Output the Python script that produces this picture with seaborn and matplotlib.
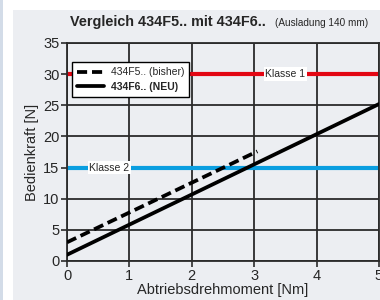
import numpy as np
import pandas as pd
import matplotlib
matplotlib.use("Agg")
import matplotlib.pyplot as plt
from matplotlib.patches import Rectangle
import seaborn as sns

# data
torque_old = [0.0, 3.05]
force_old = [3.0, 17.6]
torque_new = [0.0, 5.0]
force_new = [1.0, 25.2]
series_names = ["434F5.. (bisher)", "434F6.. (NEU)"]
class_levels = [30, 15]
class_labels = ["Klasse 1", "Klasse 2"]
class_label_x = [3.5, 0.68]
class_colors = ["#e30613", "#0a9ee0"]
x_ticks = [0, 1, 2, 3, 4, 5]
y_ticks = [0, 5, 10, 15, 20, 25, 30, 35]

df = pd.DataFrame({
    "Abtriebsdrehmoment": torque_old + torque_new,
    "Bedienkraft": force_old + force_new,
    "Serie": [series_names[0]] * len(torque_old) + [series_names[1]] * len(torque_new),
})

sns.set_style("white")
plt.rcParams["font.family"] = ["Liberation Sans", "DejaVu Sans"]

fig = plt.figure(figsize=(3.8, 3.0), dpi=100)
fig.patch.set_facecolor("white")
fig.patches.append(Rectangle((0, 0), 3 / 380, 1, transform=fig.transFigure,
                             facecolor="#d3dce8", edgecolor="none", zorder=-10))
fig.patches.append(Rectangle((13 / 380, 0), 1, 290 / 300, transform=fig.transFigure,
                             facecolor="#eceef2", edgecolor="none", zorder=-10))

ax = fig.add_axes([67 / 380, 39 / 300, 312 / 380, 218 / 300])
ax.set_facecolor("#eceef2")

grid_c = "#2b2b2b"
for xv in x_ticks:
    ax.axvline(xv, color=grid_c, lw=1.3, zorder=1)
for yv in y_ticks:
    ax.axhline(yv, color=grid_c, lw=1.3, zorder=1)

for lvl, lbl, lx, c in zip(class_levels, class_labels, class_label_x, class_colors):
    ax.axhline(lvl, color=c, lw=3, zorder=2)
    ax.text(lx, lvl, lbl, ha="center", va="center", fontsize=7.5, zorder=3,
            bbox=dict(facecolor="white", edgecolor="none", pad=1.2))

sns.lineplot(data=df, x="Abtriebsdrehmoment", y="Bedienkraft", hue="Serie", style="Serie",
             palette=["black", "black"], dashes={series_names[0]: (2.7, 1.3), series_names[1]: ""},
             lw=2.7, ax=ax, zorder=4)

ax.set_xlim(0, 5)
ax.set_ylim(0, 35)
ax.set_xticks(x_ticks)
ax.set_yticks(y_ticks)
ax.tick_params(axis="both", direction="out", length=4, width=1.2, color=grid_c,
               labelsize=10.5, pad=1.5, left=True, bottom=True)
for s in ax.spines.values():
    s.set_color(grid_c)
    s.set_linewidth(1.3)
ax.set_xlabel("Abtriebsdrehmoment [Nm]", fontsize=10.5, labelpad=0)
ax.set_ylabel("Bedienkraft [N]", fontsize=10.5, labelpad=3)

leg = ax.legend(loc="upper left", bbox_to_anchor=(0.016, 0.913), borderaxespad=0,
                fontsize=7.5, frameon=True, fancybox=False, edgecolor="black",
                framealpha=1, handlelength=2.6, borderpad=0.5, labelspacing=0.45,
                handletextpad=0.6)
leg.get_frame().set_linewidth(1.0)
leg.set_zorder(5)
leg.get_texts()[1].set_fontweight("bold")

fig.text(70 / 380, 1 - 22 / 300, "Vergleich 434F5.. mit 434F6..", fontsize=10.4,
         fontweight="bold", ha="left", va="center")
fig.text(275 / 380, 1 - 23 / 300, "(Ausladung 140 mm)", fontsize=7.2, ha="left", va="center")

fig.savefig("out.png", dpi=100)
